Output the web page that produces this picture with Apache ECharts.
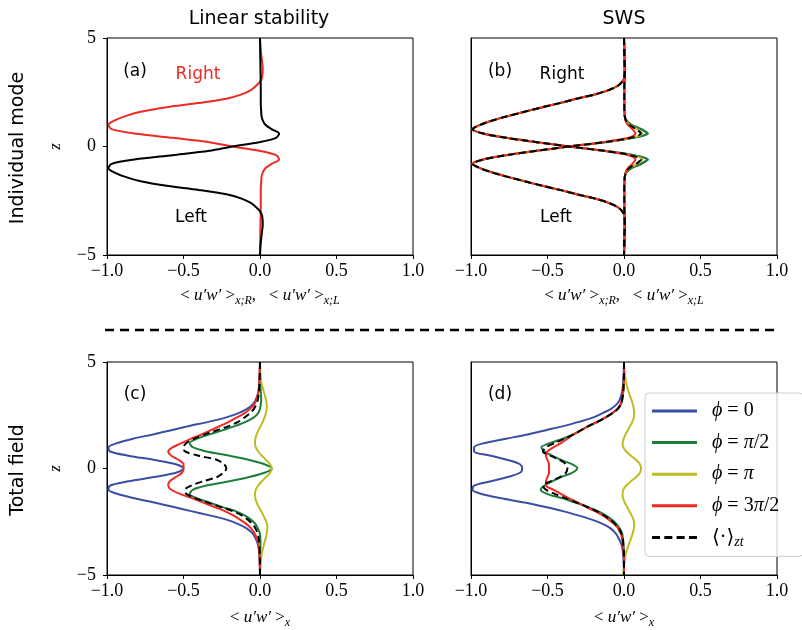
<!DOCTYPE html>
<html><head><meta charset="utf-8">
<script src="https://cdn.jsdelivr.net/npm/echarts@6/dist/echarts.min.js"></script>
<style>html,body{margin:0;padding:0;background:#fff;}#c{width:802px;height:630px;}</style>
</head><body><div id="c"></div>
<script>
// vertical coordinate z (shared by all profiles)
const zs = [5,4.5,4,3.6,3.2,3.0,2.8,2.6,2.4,2.2,2.0,1.8,1.6,1.4,1.2,1.0,0.8,0.6,0.4,0.2,0,-0.2,-0.4,-0.6,-0.8,-1.0,-1.2,-1.4,-1.6,-1.8,-2.0,-2.2,-2.4,-2.6,-2.8,-3.0,-3.2,-3.6,-4,-4.5,-5];
const xTicks = [-1.0,-0.5,0.0,0.5,1.0];
const zTicks = [-5,0,5];
const legendNames = ['ϕ = 0','ϕ = π/2','ϕ = π','ϕ = 3π/2','⟨·⟩zt'];

// (a) linear stability, individual modes
const aRight = [0,0.004,0.012,0.018,0.014,0.002,-0.025,-0.06,-0.12,-0.22,-0.40,-0.62,-0.78,-0.88,-0.95,-0.99,-0.97,-0.82,-0.57,-0.33,-0.18,-0.005,0.105,0.125,0.075,0.035,0.018,0.01,0.008,0.006,0.005,0.005,0.005,0.005,0.005,0.004,0.004,0.003,0.002,0.001,0];
const aLeft  = [0,0.001,0.002,0.003,0.004,0.004,0.005,0.005,0.005,0.005,0.005,0.006,0.008,0.01,0.018,0.035,0.075,0.125,0.105,-0.005,-0.18,-0.33,-0.57,-0.82,-0.97,-0.99,-0.95,-0.88,-0.78,-0.62,-0.40,-0.22,-0.12,-0.06,-0.025,0.002,0.014,0.018,0.012,0.004,0];

// (b) SWS, individual modes (Right / Left for each phase)
const bR0 = [0,0.002,0.004,0.005,0.003,-0.01,-0.04,-0.10,-0.19,-0.31,-0.42,-0.54,-0.65,-0.76,-0.86,-0.94,-0.99,-0.92,-0.77,-0.57,-0.36,-0.13,0.06,0.15,0.11,0.045,0.015,0.005,0.003,0.002,0.002,0.002,0.002,0.002,0.002,0.003,0.004,0.005,0.003,0.001,0];
const bL0 = [0,0.001,0.003,0.005,0.004,0.003,0.002,0.002,0.002,0.002,0.002,0.002,0.003,0.005,0.015,0.045,0.11,0.15,0.06,-0.13,-0.36,-0.57,-0.77,-0.92,-0.99,-0.94,-0.86,-0.76,-0.65,-0.54,-0.42,-0.31,-0.19,-0.10,-0.04,-0.01,0.003,0.005,0.004,0.002,0];
const bR1 = [0,0.002,0.004,0.005,0.003,-0.01,-0.04,-0.10,-0.19,-0.31,-0.42,-0.54,-0.65,-0.76,-0.86,-0.94,-0.99,-0.92,-0.77,-0.57,-0.36,-0.12,0.065,0.157,0.115,0.05,0.017,0.005,0.003,0.002,0.002,0.002,0.002,0.002,0.002,0.003,0.004,0.005,0.003,0.001,0];
const bL1 = [0,0.001,0.003,0.005,0.004,0.003,0.002,0.002,0.002,0.002,0.002,0.002,0.003,0.005,0.017,0.05,0.115,0.157,0.065,-0.12,-0.36,-0.57,-0.77,-0.92,-0.99,-0.94,-0.86,-0.76,-0.65,-0.54,-0.42,-0.31,-0.19,-0.10,-0.04,-0.01,0.003,0.005,0.004,0.002,0];
const bR2 = [0,0.002,0.004,0.005,0.003,-0.01,-0.04,-0.10,-0.19,-0.31,-0.42,-0.54,-0.65,-0.76,-0.86,-0.94,-0.99,-0.92,-0.77,-0.57,-0.36,-0.13,0.05,0.12,0.085,0.035,0.012,0.005,0.003,0.002,0.002,0.002,0.002,0.002,0.002,0.003,0.004,0.005,0.003,0.001,0];
const bL2 = [0,0.001,0.003,0.005,0.004,0.003,0.002,0.002,0.002,0.002,0.002,0.002,0.003,0.005,0.012,0.035,0.085,0.12,0.05,-0.13,-0.36,-0.57,-0.77,-0.92,-0.99,-0.94,-0.86,-0.76,-0.65,-0.54,-0.42,-0.31,-0.19,-0.10,-0.04,-0.01,0.003,0.005,0.004,0.002,0];
const bR3 = [0,0.002,0.004,0.005,0.003,-0.01,-0.04,-0.10,-0.19,-0.31,-0.42,-0.54,-0.65,-0.76,-0.86,-0.94,-0.99,-0.92,-0.77,-0.57,-0.36,-0.14,0.03,0.075,0.055,0.025,0.01,0.005,0.003,0.002,0.002,0.002,0.002,0.002,0.002,0.003,0.004,0.005,0.003,0.001,0];
const bL3 = [0,0.001,0.003,0.005,0.004,0.003,0.002,0.002,0.002,0.002,0.002,0.002,0.003,0.005,0.01,0.025,0.055,0.075,0.03,-0.14,-0.36,-0.57,-0.77,-0.92,-0.99,-0.94,-0.86,-0.76,-0.65,-0.54,-0.42,-0.31,-0.19,-0.10,-0.04,-0.01,0.003,0.005,0.004,0.002,0];
const bRm = [0,0.002,0.004,0.005,0.003,-0.01,-0.04,-0.10,-0.19,-0.31,-0.42,-0.54,-0.65,-0.76,-0.86,-0.94,-0.99,-0.92,-0.77,-0.57,-0.36,-0.13,0.045,0.11,0.08,0.033,0.012,0.005,0.003,0.002,0.002,0.002,0.002,0.002,0.002,0.003,0.004,0.005,0.003,0.001,0];
const bLm = [0,0.001,0.003,0.005,0.004,0.003,0.002,0.002,0.002,0.002,0.002,0.002,0.003,0.005,0.012,0.033,0.08,0.11,0.045,-0.13,-0.36,-0.57,-0.77,-0.92,-0.99,-0.94,-0.86,-0.76,-0.65,-0.54,-0.42,-0.31,-0.19,-0.10,-0.04,-0.01,0.003,0.005,0.004,0.002,0];

// (c) linear stability, total field
const c0 = [0,-0.002,-0.005,-0.01,-0.03,-0.05,-0.085,-0.14,-0.22,-0.33,-0.46,-0.58,-0.70,-0.83,-0.93,-0.99,-0.98,-0.86,-0.69,-0.55,-0.50,-0.55,-0.69,-0.86,-0.98,-0.99,-0.93,-0.82,-0.69,-0.57,-0.45,-0.33,-0.22,-0.145,-0.09,-0.055,-0.035,-0.012,-0.005,-0.002,0];
const c1 = [0,0,0.002,0.005,0.008,0.005,0.0,-0.012,-0.04,-0.09,-0.16,-0.24,-0.33,-0.41,-0.46,-0.44,-0.35,-0.20,-0.07,0.03,0.077,0.03,-0.07,-0.20,-0.35,-0.44,-0.46,-0.41,-0.33,-0.25,-0.16,-0.10,-0.06,-0.03,-0.015,-0.003,0.002,0.003,0.002,0,0];
const c2 = [0,0.003,0.01,0.025,0.04,0.044,0.043,0.038,0.03,0.018,0.005,-0.01,-0.022,-0.03,-0.033,-0.028,-0.012,0.012,0.04,0.066,0.077,0.066,0.04,0.012,-0.012,-0.028,-0.033,-0.03,-0.022,-0.008,0.008,0.022,0.035,0.045,0.048,0.045,0.04,0.025,0.012,0.004,0];
const c3 = [0,-0.002,-0.005,-0.01,-0.025,-0.04,-0.065,-0.10,-0.15,-0.20,-0.26,-0.32,-0.38,-0.45,-0.51,-0.57,-0.60,-0.58,-0.53,-0.50,-0.50,-0.51,-0.55,-0.59,-0.60,-0.58,-0.52,-0.44,-0.37,-0.30,-0.23,-0.175,-0.13,-0.09,-0.06,-0.04,-0.025,-0.01,-0.004,-0.001,0];
const cm = [0,-0.001,-0.003,-0.007,-0.015,-0.025,-0.04,-0.065,-0.10,-0.14,-0.20,-0.28,-0.36,-0.43,-0.48,-0.50,-0.49,-0.40,-0.28,-0.235,-0.22,-0.24,-0.28,-0.37,-0.45,-0.49,-0.48,-0.42,-0.34,-0.26,-0.18,-0.12,-0.08,-0.05,-0.03,-0.018,-0.01,-0.004,-0.002,0,0];

// (d) SWS, total field
const d0 = [0,-0.002,-0.006,-0.012,-0.03,-0.05,-0.085,-0.14,-0.20,-0.29,-0.39,-0.51,-0.63,-0.77,-0.91,-0.98,-0.98,-0.87,-0.76,-0.68,-0.665,-0.68,-0.76,-0.87,-0.98,-0.99,-0.93,-0.80,-0.65,-0.52,-0.40,-0.30,-0.21,-0.14,-0.09,-0.06,-0.04,-0.015,-0.006,-0.002,0];
const d1 = [0,0,-0.002,-0.005,-0.012,-0.02,-0.04,-0.075,-0.12,-0.17,-0.23,-0.28,-0.33,-0.40,-0.48,-0.54,-0.52,-0.47,-0.41,-0.34,-0.305,-0.34,-0.41,-0.47,-0.52,-0.545,-0.50,-0.40,-0.32,-0.24,-0.17,-0.12,-0.08,-0.05,-0.03,-0.015,-0.008,-0.003,0,0,0];
const d2 = [0,0.005,0.015,0.03,0.05,0.058,0.064,0.067,0.064,0.055,0.04,0.025,0.01,-0.002,-0.009,-0.005,0.015,0.045,0.08,0.104,0.112,0.104,0.08,0.045,0.015,-0.005,-0.009,-0.006,0.005,0.02,0.035,0.05,0.062,0.067,0.065,0.058,0.05,0.03,0.012,0.002,-0.005];
const d3 = [0,0,-0.002,-0.006,-0.015,-0.025,-0.045,-0.08,-0.12,-0.17,-0.23,-0.28,-0.33,-0.37,-0.41,-0.46,-0.50,-0.51,-0.50,-0.49,-0.49,-0.49,-0.50,-0.51,-0.51,-0.46,-0.41,-0.36,-0.30,-0.25,-0.19,-0.14,-0.10,-0.065,-0.04,-0.025,-0.015,-0.006,-0.002,0,0];
const dm = [0,0,-0.002,-0.005,-0.013,-0.022,-0.04,-0.075,-0.12,-0.17,-0.23,-0.28,-0.33,-0.39,-0.45,-0.51,-0.53,-0.48,-0.42,-0.38,-0.37,-0.38,-0.42,-0.48,-0.53,-0.51,-0.45,-0.38,-0.31,-0.24,-0.18,-0.13,-0.09,-0.06,-0.035,-0.02,-0.01,-0.004,0,0,0];

const BLUE='#3a4ea3', GREEN='#1b7f3b', OLIVE='#bcbd22', RED='#ee2a24', BLACK='#000000';
const SERIF='"Liberation Serif", "DejaVu Serif", serif';
const SANS='"DejaVu Sans", sans-serif';

function mk(name, xs, gi, color, dash){
  return {name, type:'line', xAxisIndex:gi, yAxisIndex:gi,
    data: xs.map((x,i)=>[x, zs[i]]), symbol:'none', smooth:0.3,
    lineStyle:{color, width:2, type: dash ? [7,4] : 'solid'}, itemStyle:{color},
    silent:true, emphasis:{disabled:true}};
}
const fmt = v => (v<0?'−':'') + Math.abs(v).toFixed(1);
const fmtZ = v => (v<0?'−':'') + Math.abs(v);

const gridPos = [[107,38],[471,38],[107,362],[471,362]];
const grids = gridPos.map(p=>({left:p[0], top:p[1], width:306, height:217, show:true, borderColor:'#000', borderWidth:1, backgroundColor:'transparent'}));

const richName = {
  t:{fontFamily:SERIF, fontSize:17, color:'#000'},
  i:{fontFamily:SERIF, fontSize:17, fontStyle:'italic', color:'#000'},
  s:{fontFamily:SERIF, fontSize:12, fontStyle:'italic', color:'#000', padding:[10,0,0,0]}
};
const xName1 = '{t|< }{i|u′w′}{t| >}{s|x;R}{t|,   < }{i|u′w′}{t| >}{s|x;L}';
const xName2 = '{t|< }{i|u′w′}{t| >}{s|x}';

const xAxes = [0,1,2,3].map(i=>({gridIndex:i, type:'value', min:xTicks[0], max:xTicks[xTicks.length-1], interval:0.5,
  axisLine:{show:true, onZero:false, lineStyle:{color:'#000', width:1}},
  axisTick:{show:true, length:4, lineStyle:{color:'#000'}},
  axisLabel:{color:'#000', fontFamily:SERIF, fontSize:18, margin:7, formatter:fmt},
  splitLine:{show:false},
  name: i<2 ? xName1 : xName2, nameLocation:'middle', nameGap: i<2 ? 30 : 32,
  nameTextStyle:{rich:richName}
}));
const yAxes = [0,1,2,3].map(i=>({gridIndex:i, type:'value', min:zTicks[0], max:zTicks[zTicks.length-1], interval:5,
  axisLine:{show:true, onZero:false, lineStyle:{color:'#000', width:1}},
  axisTick:{show:(i%2===0), length:4, lineStyle:{color:'#000'}},
  axisLabel:{show:(i%2===0), color:'#000', fontFamily:SERIF, fontSize:18, margin:11, formatter:fmtZ},
  splitLine:{show:false},
  name: (i%2===0) ? 'z' : '', nameLocation:'middle', nameGap:43, nameRotate:90,
  nameTextStyle:{fontFamily:SERIF, fontStyle:'italic', fontSize:17, color:'#000'}
}));

const series = [
  mk('Right', aRight, 0, RED), mk('Left', aLeft, 0, BLACK),
  mk(legendNames[0], bR0, 1, BLUE), mk(legendNames[0], bL0, 1, BLUE),
  mk(legendNames[1], bR1, 1, GREEN), mk(legendNames[1], bL1, 1, GREEN),
  mk(legendNames[2], bR2, 1, OLIVE), mk(legendNames[2], bL2, 1, OLIVE),
  mk(legendNames[3], bR3, 1, RED), mk(legendNames[3], bL3, 1, RED),
  mk(legendNames[4], bRm, 1, BLACK, true), mk(legendNames[4], bLm, 1, BLACK, true),
  mk(legendNames[0], c0, 2, BLUE), mk(legendNames[1], c1, 2, GREEN), mk(legendNames[2], c2, 2, OLIVE),
  mk(legendNames[3], c3, 2, RED), mk(legendNames[4], cm, 2, BLACK, true),
  mk(legendNames[0], d0, 3, BLUE), mk(legendNames[1], d1, 3, GREEN), mk(legendNames[2], d2, 3, OLIVE),
  mk(legendNames[3], d3, 3, RED), mk(legendNames[4], dm, 3, BLACK, true)
];

const legendRich = {
  g:{width:10},
  i:{fontFamily:SERIF, fontStyle:'italic', fontSize:20, color:'#000'},
  t:{fontFamily:SERIF, fontSize:20, color:'#000'},
  s:{fontFamily:SERIF, fontStyle:'italic', fontSize:14, color:'#000', padding:[10,0,0,0]}
};
const legendFmt = {};
legendFmt[legendNames[0]] = '{g|}{i|ϕ}{t| = 0}';
legendFmt[legendNames[1]] = '{g|}{i|ϕ}{t| = }{i|π}{t|/2}';
legendFmt[legendNames[2]] = '{g|}{i|ϕ}{t| = }{i|π}';
legendFmt[legendNames[3]] = '{g|}{i|ϕ}{t| = 3}{i|π}{t|/2}';
legendFmt[legendNames[4]] = '{g|}{t|⟨·⟩}{s|zt}';
const solidIcon = 'path://M0,0H45V3H0Z';
const dashIcon = 'path://M0,0H8V3H0Z M12.3,0H20.3V3H12.3Z M24.6,0H32.6V3H24.6Z M36.9,0H44.9V3H36.9Z';

function txt(text, x, y, size, color, rot){
  return {type:'text', x, y, rotation: rot||0, silent:true,
    style:{text, font: size+'px '+SANS, fill: color||'#000', align:'center', verticalAlign:'middle', textAlign:'center', textVerticalAlign:'middle'}};
}

const option = {
  animation:false,
  backgroundColor:'#fff',
  grid: grids, xAxis: xAxes, yAxis: yAxes, series,
  legend:{data: legendNames.map((n,k)=>({name:n, icon: k===4 ? dashIcon : solidIcon})),
    left:645, top:393, orient:'vertical', itemWidth:45, itemHeight:3, itemGap:9.6,
    backgroundColor:'rgba(255,255,255,0.8)', borderColor:'#cccccc', borderWidth:1, borderRadius:4,
    padding:[7,24,7,7], selectedMode:false,
    textStyle:{fontFamily:SERIF, fontSize:20, color:'#000', lineHeight:22, rich:legendRich},
    formatter: n => legendFmt[n]},
  graphic:[
    txt('Linear stability', 259, 19, 19),
    txt('SWS', 624, 19, 19),
    txt('Individual mode', 18, 148, 19, '#000', Math.PI/2),
    txt('Total field', 18, 470, 19, '#000', Math.PI/2),
    txt('(a)', 135, 72, 17), txt('Right', 198, 75, 17, RED), txt('Left', 191, 218, 17),
    txt('(b)', 500, 72, 17), txt('Right', 562, 75, 17), txt('Left', 556, 218, 17),
    txt('(c)', 135, 395, 17), txt('(d)', 500, 395, 17),
    {type:'line', silent:true, shape:{x1:105, y1:330, x2:776, y2:330}, style:{stroke:'#000', lineWidth:2.5, lineDash:[9,6]}}
  ]
};
const chart = echarts.init(document.getElementById('c'), null, {renderer:'canvas'});
chart.setOption(option);
</script></body></html>
